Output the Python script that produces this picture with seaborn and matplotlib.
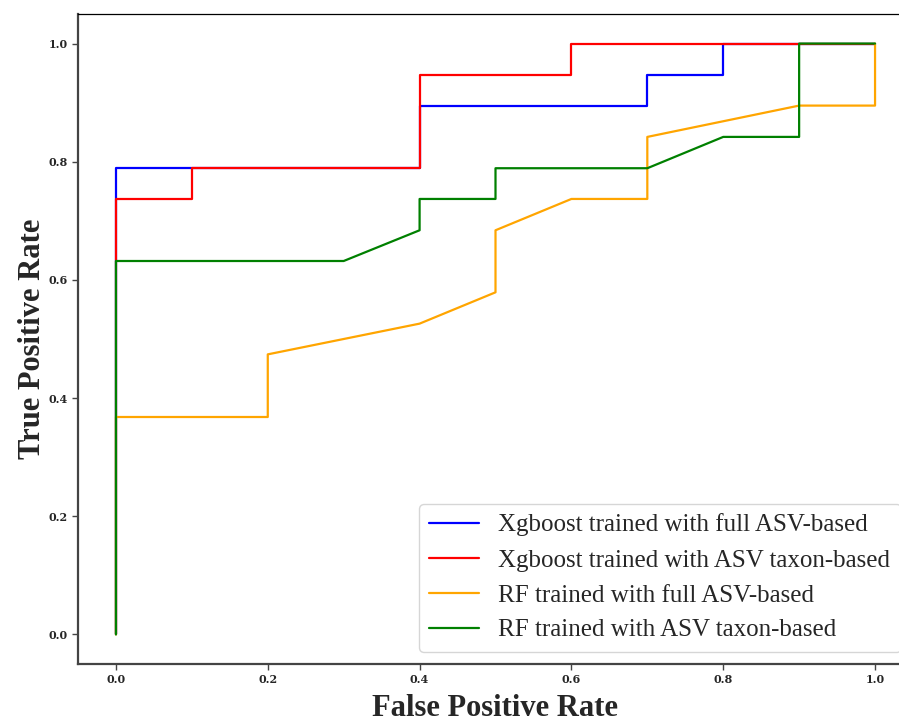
import pandas as pd
import numpy as np
import seaborn as sns
import matplotlib.pyplot as plt

labels = ['Xgboost trained with full ASV-based',
          'Xgboost trained with ASV taxon-based',
          'RF trained with full ASV-based',
          'RF trained with ASV taxon-based']
colors = ['blue', 'red', 'orange', 'green']

xgb_full_fpr = [0.0, 0.0, 0.4, 0.4, 0.7, 0.7, 0.8, 0.8, 1.0]
xgb_full_tpr = [0.0, 0.789, 0.789, 0.895, 0.895, 0.947, 0.947, 1.0, 1.0]

xgb_taxon_fpr = [0.0, 0.0, 0.1, 0.1, 0.4, 0.4, 0.6, 0.6, 1.0]
xgb_taxon_tpr = [0.0, 0.737, 0.737, 0.789, 0.789, 0.947, 0.947, 1.0, 1.0]

rf_full_fpr = [0.0, 0.0, 0.2, 0.2, 0.4, 0.5, 0.5, 0.6, 0.7, 0.7, 0.9, 1.0, 1.0]
rf_full_tpr = [0.0, 0.368, 0.368, 0.474, 0.526, 0.579, 0.684, 0.737, 0.737, 0.842, 0.895, 0.895, 1.0]

rf_taxon_fpr = [0.0, 0.0, 0.3, 0.4, 0.4, 0.5, 0.5, 0.7, 0.8, 0.9, 0.9, 1.0]
rf_taxon_tpr = [0.0, 0.632, 0.632, 0.684, 0.737, 0.737, 0.789, 0.789, 0.842, 0.842, 1.0, 1.0]

frames = []
for lab, f, t in zip(labels,
                     [xgb_full_fpr, xgb_taxon_fpr, rf_full_fpr, rf_taxon_fpr],
                     [xgb_full_tpr, xgb_taxon_tpr, rf_full_tpr, rf_taxon_tpr]):
    frames.append(pd.DataFrame({'fpr': f, 'tpr': t, 'model': lab}))
df = pd.concat(frames, ignore_index=True)

sns.set_style("white")
plt.rcParams['font.family'] = ['Liberation Serif', 'DejaVu Serif']

fig = plt.figure(figsize=(8.99, 7.23), dpi=100)
# the right spine sits just past the right edge of the picture
ax = fig.add_axes([78 / 899, 1 - 664 / 723, (913 - 78) / 899, (664 - 14) / 723])

sns.lineplot(data=df, x='fpr', y='tpr', hue='model', palette=colors,
             hue_order=labels, sort=False, estimator=None, linewidth=1.6, ax=ax)

ax.set_xlim(-0.05, 1.05)
ax.set_ylim(-0.05, 1.05)
ax.set_xticks(np.arange(0, 1.01, 0.2))
ax.set_yticks(np.arange(0, 1.01, 0.2))
ax.tick_params(axis='both', which='major', length=4, width=1,
               left=True, bottom=True, color='#444444')
for lbl in ax.get_xticklabels() + ax.get_yticklabels():
    lbl.set_fontweight('bold')
    lbl.set_family(['DejaVu Serif'])
    lbl.set_fontsize(8)

for side in ['left', 'bottom']:
    ax.spines[side].set_color('#444444')
    ax.spines[side].set_linewidth(1.6)
ax.spines['top'].set_color('black')
ax.spines['top'].set_linewidth(0.9)

ax.set_xlabel('False Positive Rate', fontsize=22, fontweight='bold', labelpad=6)
ax.set_ylabel('True Positive Rate', fontsize=22, fontweight='bold', labelpad=1)

ax.legend(loc='lower right', fontsize=18, title=None, handlelength=2.0)

plt.savefig('out.png', dpi=100)
